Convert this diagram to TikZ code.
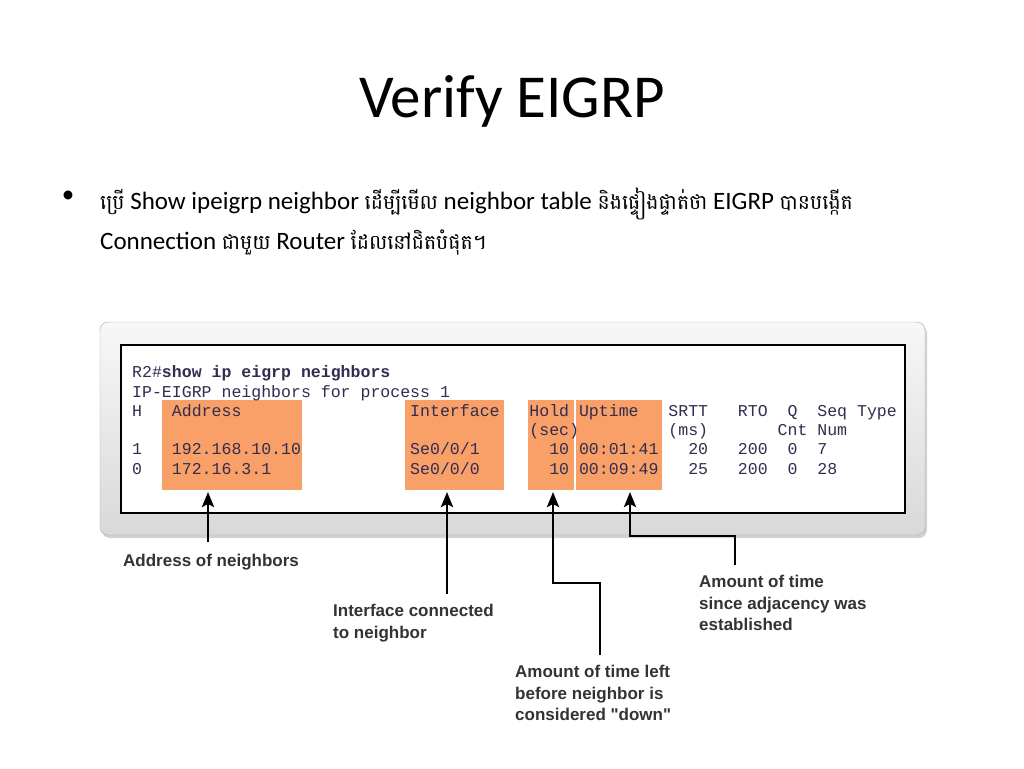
\documentclass[tikz,border=0pt]{standalone}
\usepackage{fontspec}
\setmainfont{Carlito}
\setmonofont{Liberation Mono}
\newfontfamily\labfont{Liberation Sans}
\newfontfamily\khfont[Script=Khmer]{Battambang}
\usetikzlibrary{positioning,calc,arrows.meta,shadows}
\definecolor{hlorange}{RGB}{249,160,104}
\definecolor{context}{RGB}{50,45,80}
\definecolor{labgray}{RGB}{51,51,51}
\definecolor{framegray}{RGB}{170,170,170}
\newcommand{\khm}[1]{{\khfont\fontsize{20.5}{30}\selectfont #1}}

\begin{document}
\begin{tikzpicture}[x=1pt,y=-1pt,
    bul/.style={anchor=base west, inner sep=0pt, font=\fontsize{25}{30}\selectfont},
    con/.style={anchor=base west, inner sep=0pt, text=context, font=\ttfamily\fontsize{16.55}{19}\selectfont},
    hl/.style={fill=hlorange, inner sep=0pt, anchor=north west, minimum height=90pt},
    lab/.style={anchor=north west, align=left, inner sep=0pt, text=labgray, font=\labfont\bfseries\fontsize{17}{21.7}\selectfont},
    arr/.style={line width=2.8pt, -{Stealth[length=15pt,width=12pt,inset=3pt]}}]
    \useasboundingbox[fill=white] (0,0) rectangle (1024,768);

    % Title and bullet
    \node[anchor=base, inner sep=0pt] (title) at (512,117) {\fontsize{61}{70}\selectfont Verify EIGRP};
    \node[inner sep=0pt] (dot) at (68,197) {\fontsize{25}{30}\selectfont\textbullet};
    \node[bul] (line1) at (100,209) {\khm{ប្រើ} Show ipeigrp neighbor \khm{ដើម្បីមើល} neighbor table \khm{និងផ្ទៀងផ្ទាត់ថា} EIGRP \khm{បានបង្កើត}};
    \node[bul] (line2) at (100,249) {Connection \khm{ជាមួយ} Router \khm{ដែលនៅជិតបំផុត។}};

    % Console window
    \draw[framegray, rounded corners=8pt, top color=gray!6, bottom color=gray!30,
        drop shadow={shadow xshift=2pt, shadow yshift=-3pt, opacity=0.35}] (100,322) rectangle (925,535);
    \node[draw, line width=1.5pt, fill=white, inner sep=0pt, anchor=north west,
        minimum width=784pt, minimum height=168pt] (screen) at (120,344) {};

    % Highlighted columns
    \node[hl, minimum width=140pt] (addrbox) at (162,400) {};
    \node[hl, minimum width=99pt] (ifbox) at (405,400) {};
    \node[hl, minimum width=46pt] (holdbox) at (528,400) {};
    \node[hl, minimum width=86pt] (upbox) at (576,400) {};

    % Output
    \node[con] (cmd) at (132,377) {R2\#\textbf{show ip eigrp neighbors}};
    \node[con] (proc) at (132,397) {IP-EIGRP neighbors for process 1};
    \foreach \c/\t in {0/H,4/Address,28/Interface,40/Hold,45/Uptime,54/SRTT,61/RTO,66/Q,69/Seq,73/Type}
        \node[con] (hd\c) at (132+9.93*\c,416) {\t};
    \foreach \c/\t in {40/(sec),54/(ms),65/Cnt,69/Num}
        \node[con] (un\c) at (132+9.93*\c,435) {\t};
    \foreach \c/\t in {0/1,4/192.168.10.10,28/{Se0/0/1},42/10,45/00:01:41,56/20,61/200,66/0,69/7}
        \node[con] (ra\c) at (132+9.93*\c,454) {\t};
    \foreach \c/\t in {0/0,4/172.16.3.1,28/{Se0/0/0},42/10,45/00:09:49,56/25,61/200,66/0,69/28}
        \node[con] (rb\c) at (132+9.93*\c,474) {\t};

    % Labels
    \node[lab] (addrlbl) at (123,554) {Address of neighbors};
    \node[lab] (iflbl) at (333,604) {Interface connected\\to neighbor};
    \node[lab] (holdlbl) at (515,665) {Amount of time left\\before neighbor is\\considered "down"};
    \node[lab] (uplbl) at (699,575) {Amount of time\\since adjacency was\\established};

    \coordinate (addrtip) at (208,492);
    \coordinate (iftip) at (447,492);
    \coordinate (holdtip) at (553,492);
    \coordinate (uptip) at (630,492);
    \coordinate (holdbend) at (600,583);
    \coordinate (upbend) at (735,536);

    \draw[arr] ($(addrlbl.north -| addrtip)+(0,-12)$) -- (addrtip);
    \draw[arr] ($(iflbl.north -| iftip)+(0,-10)$) -- (iftip);
    \draw[arr] ($(holdlbl.north -| holdbend)+(0,-10)$) -- (holdbend) -| (holdtip);
    \draw[arr] ($(uplbl.north -| upbend)+(0,-10)$) -- (upbend) -| (uptip);
\end{tikzpicture}
\end{document}
